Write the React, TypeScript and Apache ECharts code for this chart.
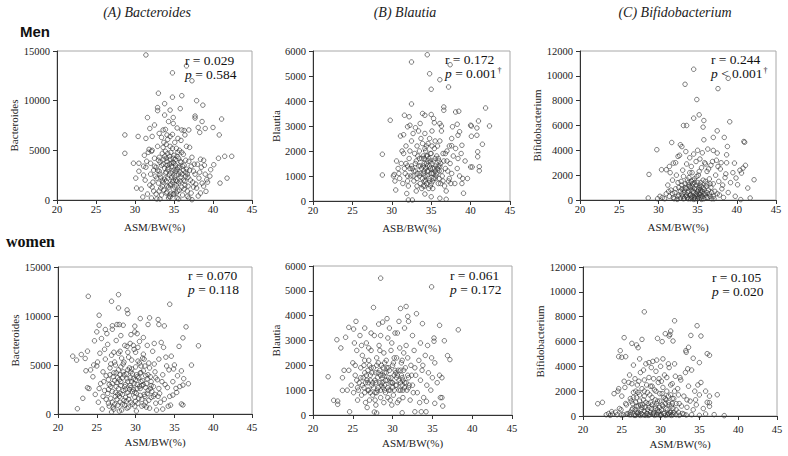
import React, { useEffect, useRef } from "react";
import * as echarts from "echarts";

// ---------- DATA ----------
const xTickValues = [20, 25, 30, 35, 40, 45];

const menBacteroides: [number, number][] = [
  [31.4,14600],[34.8,12800],[36.6,13500],[37.3,12000],[33.0,10750],[34.8,10350],[36.0,10500],[37.9,10000],[38.7,9550],
  [32.9,9300],[32.9,9000],[33.8,9700],[34.5,9050],[35.8,9200],[37.7,8450],[31.6,8300],[41.1,8150],[33.8,8550],[34.9,8300],
  [34.3,7900],[37.7,8250],[38.6,7900],[40.0,7300],[40.8,6550],[39.0,7200],[38.1,7300],[38.3,6800],[28.7,6550],[28.7,4700],
  [30.4,6400],[31.4,6200],[32.2,6400],[32.5,7550],[31.9,7200],[34.9,7700],[35.4,7250],[36.0,7050],[36.4,6550],[36.9,7050],
  [33.6,7050],[33.1,6700],[34.1,6550],[34.5,6400],[32.1,4900],[29.8,3700],[30.1,2200],[30.5,3700],[31.1,3400],[41.5,4400],
  [42.4,4400],[40.7,4200],[41.8,2200],[40.9,1700],[40.1,3550],[39.7,3050],[39.2,2050],[38.8,1400],[39.1,870],[38.4,700],
  [37.3,30],[35.4,200],[36.7,370],
  [31.2,4500],[31.5,3900],[31.8,5100],[32.0,2600],[32.3,1800],[32.5,4200],[32.7,3300],[32.9,5400],[33.1,2900],[33.3,1200],
  [33.5,4700],[33.6,3600],[33.8,2100],[34.0,5600],[34.1,800],[34.2,3100],[34.4,4400],[34.5,1500],[34.6,2700],[34.8,5200],
  [34.9,3800],[35.0,600],[35.1,2300],[35.2,4100],[35.4,1900],[35.5,3300],[35.7,5000],[35.8,2800],[36.0,1300],[36.2,4600],
  [36.3,3500],[36.5,2400],[36.7,900],[36.9,3900],[37.1,2000],[37.3,4300],[37.5,2900],[37.8,1600],[38.0,3600],[38.2,2200],
  [38.5,3300],[38.8,4000],[39.0,2600],[39.3,1800],[39.6,2400],[30.8,1100],[31.0,300],[31.3,2000],[31.6,600],[31.9,1500],
  [32.1,200],[32.4,900],[32.6,2400],[32.8,100],[33.0,1700],[33.2,3800],[33.4,500],[33.7,1000],[33.9,4900],[34.0,1900],
  [34.3,200],[34.4,2500],[34.7,3400],[34.9,1100],[35.0,4500],[35.2,2900],[35.3,700],[35.6,1700],[35.8,3900],[36.1,500],
  [36.4,1900],[36.6,3100],[36.8,1400],[37.0,5300],[37.2,700],[37.6,3600],[37.9,1200],[38.3,2800],[38.6,1700],[38.9,3500],
  [30.5,2900],[30.2,1200],[31.4,3300],[32.2,5000],[32.9,3000],[33.6,5300],[34.2,6100],[34.6,4800],[35.1,5800],[35.9,6000],
  [36.6,5400],[33.4,6300],[34.8,6600],[35.5,6200],[36.3,7000],[33.9,7100],[34.5,5400],[32.7,600],[33.3,2300],[33.8,3200],
  [34.1,3900],[34.3,1300],[34.6,600],[34.9,2000],[35.2,3500],[35.4,4400],[35.7,1000],[36.0,2600],[36.5,4000],[37.4,1800],
  [38.1,400],[32.0,3700],[31.7,4800],[33.1,4300],[34.7,2300],[35.6,2600],[36.2,3000],[33.5,1400],[34.0,2800],[34.4,3600],
  [35.0,3000],[35.3,1500],[34.2,4700],[33.7,4100],[36.8,2300],[37.7,2600],[38.4,4100],[37.2,3400],[35.9,3800],[31.1,2500],
  [32.5,3400],[34.9,4200],[36.0,4800],[33.2,100],[34.5,300],[35.6,100],[36.9,200],
  [33.2,2600],[33.4,3500],[33.6,1800],[33.8,4400],[34.0,700],[34.2,2200],[34.3,3300],[34.5,4100],[34.6,1600],[34.8,2900],
  [34.9,600],[35.0,3700],[35.1,1300],[35.3,2500],[35.4,3100],[35.5,900],[35.6,4200],[35.8,1900],[35.9,2300],[36.1,3400],
  [36.3,1100],[36.5,2800],[33.1,900],[33.5,2000],[33.9,2700],[34.1,1400],[34.4,400],[34.7,3700],[35.2,2000],[35.7,3300],
  [36.4,1500],[32.8,2200],[32.4,3000],[32.2,1300],[33.0,4000],[36.7,2600],[37.0,3000],[37.5,1300],[34.0,4200],[35.3,5200],
  [33.7,5800],[34.1,3500],[34.8,1800],[35.5,4800],[36.2,2000]
];

const menBlautia: [number, number][] = [
  [34.5,5850],[32.5,5560],[37.4,5450],[34.8,5090],[36.1,4850],[35.0,4470],[37.2,4560],[32.5,3880],[36.6,3760],[36.6,3630],
  [38.1,3560],[38.5,3590],[41.9,3720],[29.8,3230],[42.4,3000],[40.0,3030],[40.1,3000],[41.0,3200],[40.8,2920],[40.1,2590],
  [40.8,2630],[41.5,2270],[40.9,1970],[40.9,1770],[41.1,1370],[40.0,1360],[40.2,1360],[41.1,1210],[28.8,1870],[28.8,1040],
  [30.3,1060],[30.5,440],[39.1,310],[32.1,40],[32.6,40],[34.2,280],[35.0,170],[36.1,110],[36.9,70],[31.6,3430],[32.2,3370],
  [33.9,3500],[34.2,3430],[35.0,3460],[35.3,3300],[35.4,3130],[36.1,3100],[36.3,3000],[37.7,2970],[38.3,3070],[38.6,2770],
  [38.4,2630],[38.9,2230],[37.6,2210],[37.6,2500],[31.5,2650],[32.0,2970],[32.3,3030],[33.0,2930],[33.6,3100],
  [30.8,1300],[31.0,900],[31.2,1500],[31.4,700],[31.5,1900],[31.7,1100],[31.8,2200],[32.0,1400],[32.1,600],[32.2,1700],
  [32.4,1000],[32.5,2400],[32.6,1300],[32.8,800],[32.9,1900],[33.0,1500],[33.1,400],[33.2,2200],[33.3,1100],[33.5,1700],
  [33.6,700],[33.7,2500],[33.8,1300],[33.9,900],[34.0,1800],[34.1,1200],[34.2,600],[34.3,2000],[34.4,1500],[34.5,1000],
  [34.6,2300],[34.7,1700],[34.8,800],[34.9,1300],[35.0,1900],[35.1,1100],[35.2,500],[35.3,1600],[35.4,2100],[35.5,900],
  [35.6,1400],[35.7,1800],[35.9,700],[36.0,1200],[36.1,2400],[36.2,1500],[36.4,1000],[36.5,1900],[36.7,600],[36.8,1300],
  [37.0,2000],[37.2,800],[37.4,1500],[37.6,1100],[37.8,1800],[38.0,700],[38.3,1300],[38.6,1000],[38.9,700],[39.3,1600],
  [39.6,900],[30.4,800],[30.6,1600],[31.1,2600],[31.9,300],[32.3,2000],[32.7,2700],[33.4,2800],[33.9,2300],[34.2,2700],
  [34.5,1800],[34.8,2500],[35.1,2800],[35.5,2400],[35.8,2200],[36.3,2800],[34.0,1400],[34.3,800],[34.6,1200],[34.9,1600],
  [35.2,1300],[33.6,1400],[33.3,1800],[33.8,500],[35.0,700],[35.7,1100],[36.6,1600],[37.1,1200],[37.3,2200],[36.9,400],
  [37.5,700],[38.1,2100],[38.4,1700],[38.8,1900],[39.0,900],[32.0,1000],[32.8,1200],[33.1,1600],[34.1,1700],[34.4,2200],
  [34.7,500],[35.3,900],[35.9,1700],[36.2,700],[33.5,1000],[34.0,1100],[34.5,1400],[35.5,1200],[36.1,1400],[33.2,600],
  [32.5,1400],[31.6,1300],[31.3,2000],[30.9,1100],[30.2,1000],
  [33.2,900],[33.4,1400],[33.6,1100],[33.8,1700],[34.0,600],[34.1,1500],[34.2,1000],[34.3,1300],[34.4,700],[34.5,1200],
  [34.6,1600],[34.7,900],[34.8,1400],[34.9,1900],[35.0,1100],[35.1,1500],[35.2,800],[35.4,1300],[35.5,1700],[35.6,1000],
  [35.8,1300],[36.0,900],[36.3,1200],[33.0,1200],[32.7,1000],[32.3,1300],[34.1,800],[34.4,1800],[34.9,600],[35.3,1100],
  [35.9,1400],[36.5,800],[33.5,2000],[34.2,2100],[35.1,2200],[36.0,1600],[31.8,1500],[32.0,800],[37.0,1600],[37.3,900],
  [36.8,1900]
];

const menBifido: [number, number][] = [
  [34.5,10530],[33.4,9320],[38.9,9800],[37.6,8970],[34.9,8090],[35.2,6860],[34.5,6590],[35.8,6400],[35.7,5870],[39.1,6300],
  [33.2,6000],[33.6,6000],[37.5,5570],[38.4,5040],[37.0,5040],[35.8,4850],[31.7,4630],[29.8,4050],[40.9,4710],[41.0,4650],
  [38.8,4310],[32.8,4450],[38.7,3640],[37.5,3780],[37.0,3990],[28.8,2060],[28.7,160],[39.7,2970],[41.1,2790],[42.2,1630],
  [41.4,960],[41.7,160],[40.5,30],[39.9,1770],[40.1,1230],[40.8,2570],[40.6,2170],[40.4,2400],[30.4,2440],[31.0,2440],
  [31.4,2700],[31.9,2970],[32.5,3510],
  [30.5,200],[30.8,100],[31.0,500],[31.2,1200],[31.4,300],[31.6,800],[31.8,1600],[32.0,100],[32.1,600],[32.3,2000],
  [32.5,300],[32.6,1000],[32.8,150],[32.9,1500],[33.0,500],[33.1,2400],[33.2,100],[33.3,800],[33.4,1300],[33.5,300],
  [33.6,2900],[33.7,600],[33.8,100],[33.9,1800],[34.0,400],[34.1,1000],[34.2,200],[34.3,2200],[34.4,700],[34.5,50],
  [34.6,1400],[34.7,300],[34.8,3100],[34.9,900],[35.0,100],[35.1,2000],[35.2,500],[35.3,1200],[35.4,200],[35.5,2600],
  [35.6,700],[35.7,1600],[35.8,100],[35.9,3000],[36.0,400],[36.1,1100],[36.2,2300],[36.3,200],[36.4,800],[36.5,1700],
  [36.6,300],[36.7,2800],[36.8,600],[37.0,1300],[37.1,100],[37.3,2000],[37.5,500],[37.7,1500],[37.9,2500],[38.1,900],
  [38.3,200],[38.5,1800],[38.7,3000],[38.9,600],[39.2,1400],[39.5,2200],[39.8,300],[31.5,2200],[32.2,3000],[32.7,3600],
  [33.0,4300],[33.5,3900],[34.0,3400],[34.5,3700],[35.0,4000],[35.3,3300],[35.6,3800],[36.0,2900],[36.3,4100],[36.9,3100],
  [37.4,3200],[34.2,2700],[33.9,1200],[34.4,1600],[34.8,500],[35.1,800],[35.4,1400],[34.1,100],[33.6,400],[33.3,150],
  [34.6,200],[35.0,300],[35.5,50],[36.1,200],[36.8,100],[32.4,50],[31.9,200],[33.0,900],[33.7,1600],[34.3,1100],
  [34.9,1900],[35.2,2300],[35.7,1000],[36.2,600],[36.6,1300],[37.2,700],[37.8,400],[38.2,1200],[34.0,2200],[33.2,1900],
  [32.5,1400],[31.3,700],[30.2,300],[29.9,100],[35.9,500],[36.4,2500],[37.6,2700],[38.0,3000],[38.6,2100],
  [33.1,300],[33.3,600],[33.5,900],[33.7,200],[33.9,700],[34.0,1100],[34.1,400],[34.2,800],[34.3,300],[34.4,1300],
  [34.5,600],[34.6,900],[34.7,100],[34.8,1200],[34.9,400],[35.0,700],[35.1,200],[35.2,1000],[35.3,400],[35.4,800],
  [35.5,1100],[35.6,300],[35.7,500],[35.8,900],[36.0,1500],[36.2,1300],[32.8,700],[32.6,400],[33.0,1200],[36.5,500],
  [36.7,1000],[37.0,300],[34.2,1500],[34.6,1700],[35.0,1400],[35.4,600],[33.4,1000],[33.8,1400],[32.2,900],[31.8,500]
];

const womenBacteroides: [number, number][] = [
  [23.9,12010],[27.8,12180],[26.9,11500],[34.4,11200],[27.8,10820],[28.9,10620],[29.0,10250],[25.3,10080],[25.3,9060],
  [30.6,9740],[31.8,9810],[32.9,9640],[33.0,9130],[33.7,8990],[36.5,8890],[25.0,8380],[26.1,8620],[27.0,8650],[27.6,9130],
  [27.9,9130],[28.4,9060],[29.9,8960],[29.9,8380],[31.6,9130],[24.7,7470],[38.1,6960],[36.1,7770],[21.9,5900],[23.0,6070],
  [23.8,6410],[22.4,5500],[23.5,5670],[23.6,4410],[23.8,2680],[23.2,1600],[22.5,540],[37.2,4990],[36.8,3090],[36.1,2950],
  [35.9,1020],[36.1,920],[35.2,2610],[34.8,1930],
  [24.5,3800],[24.8,2000],[25.0,4900],[25.2,1200],[25.4,6200],[25.5,3100],[25.7,500],[25.8,4300],[26.0,2400],[26.1,5600],
  [26.2,1500],[26.4,7100],[26.5,3500],[26.6,800],[26.7,4700],[26.8,2800],[26.9,6000],[27.0,1200],[27.1,3800],[27.2,500],
  [27.3,5300],[27.4,2200],[27.5,7500],[27.6,3200],[27.7,900],[27.8,4500],[27.9,1800],[28.0,6400],[28.1,2900],[28.2,400],
  [28.3,3700],[28.4,5100],[28.5,1400],[28.6,7000],[28.7,2500],[28.8,4100],[28.9,600],[29.0,3300],[29.1,5800],[29.2,1900],
  [29.3,7200],[29.4,2700],[29.5,4600],[29.6,1000],[29.7,3600],[29.8,6600],[29.9,2200],[30.0,4800],[30.1,300],[30.2,3000],
  [30.3,5400],[30.4,1600],[30.5,7400],[30.6,2600],[30.7,4200],[30.8,800],[30.9,3400],[31.0,6100],[31.1,2000],[31.2,4900],
  [31.3,1200],[31.4,3100],[31.5,7000],[31.6,2400],[31.7,5200],[31.8,600],[31.9,3800],[32.0,1700],[32.2,6400],[32.3,2800],
  [32.5,4300],[32.6,1100],[32.8,3500],[33.0,5600],[33.1,2100],[33.3,7300],[33.5,4000],[33.7,1500],[33.9,5800],[34.1,2700],
  [34.3,4500],[34.5,900],[34.8,3300],[35.0,5000],[35.3,2200],[35.6,6900],[35.9,4400],[36.2,3600],[24.2,4500],[24.0,2600],
  [25.6,7700],[26.3,8200],[27.0,9000],[28.1,8000],[29.4,8100],[30.2,8200],[31.0,7800],[32.4,7200],[33.6,6800],[26.6,3000],
  [27.3,3400],[27.8,2600],[28.3,1000],[28.7,3000],[29.1,1500],[29.6,2300],[30.0,1300],[30.4,3700],[30.8,2900],[31.2,1800],
  [31.6,4000],[27.1,700],[27.6,1500],[28.0,2100],[28.5,4000],[29.0,4500],[29.5,5500],[30.0,6300],[30.5,5200],[31.0,4400],
  [31.5,3600],[26.8,5100],[27.2,6300],[26.4,2100],[25.9,3300],[25.3,2600],[27.9,300],[28.8,1300],[29.2,2500],[29.8,3100],
  [30.6,1900],[31.4,700],[32.1,2300],[32.7,400],[33.2,1200],[33.8,3000],[34.4,1800],[34.6,5900],[27.5,4200],[28.2,5700],
  [28.9,6900],[29.7,7000],[30.3,6800],[26.0,6600],[25.1,5300],[24.6,5000],[30.9,5700],[31.8,4700],[32.4,5100],[33.4,3300],
  [34.0,4900],[34.9,4600],[35.4,3900],[35.7,2800],[34.2,800],[33.5,500],[32.9,1800],[32.0,2900],[27.0,2300],[27.4,1800],
  [27.7,3700],[28.4,2400],[28.6,900],[29.3,3700],[29.9,1700],[30.2,2600],[30.7,3300],[31.3,2700],[26.5,1100],[26.9,200],
  [25.8,1800],[26.2,3900],[28.1,4800],[29.4,4300],[30.1,4000],[31.1,5600],[32.6,3700],
  [26.5,2500],[26.8,1600],[27.0,3100],[27.2,4200],[27.3,1000],[27.5,2800],[27.7,2000],[27.9,3500],[28.0,1200],[28.1,3300],
  [28.3,2000],[28.4,4300],[28.6,2800],[28.7,1700],[28.9,3600],[29.0,2200],[29.1,700],[29.3,2900],[29.4,1200],[29.6,4100],
  [29.7,2500],[29.9,800],[30.0,3500],[30.1,2100],[30.3,1100],[30.5,2800],[30.6,4200],[30.8,1500],[31.0,3000],[31.1,900],
  [31.3,3900],[31.5,2100],[31.7,1400],[32.0,3300],[32.3,1800],[27.4,5000],[28.5,5300],[29.2,4700],[30.7,4900],[27.8,6200],
  [29.0,6300],[26.7,4000],[28.0,4000],[29.5,3300],[30.2,3800],[31.9,2600],[32.5,2000],[33.0,2600]
];

const womenBlautia: [number, number][] = [
  [28.5,5510],[34.9,5160],[27.6,4330],[31.0,4290],[31.7,4370],[33.0,4080],[31.9,3970],[32.0,3770],[30.8,3770],[29.3,3880],
  [28.75,3740],[28.25,3660],[33.75,3680],[35.9,3610],[38.25,3430],[25.4,3770],[25.1,3460],[24.5,3530],[23.0,3030],
  [24.1,3130],[23.5,2700],[36.5,2990],[35.2,3100],[35.2,2970],[36.9,2390],[37.2,2230],[21.9,1540],[23.7,1500],[23.9,1800],
  [22.6,590],[23.1,560],[23.1,430],[23.7,990],[24.6,130],[27.7,120],[28.0,80],[31.2,90],[32.8,130],[33.6,130],[34.2,130],
  [36.0,700],[36.2,700],[36.3,360],[35.3,470],[34.25,550],
  [24.8,1200],[25.0,2100],[25.1,900],[25.3,1600],[25.5,2600],[25.6,600],[25.8,1300],[26.0,1900],[26.1,800],[26.2,2400],
  [26.4,1100],[26.5,1700],[26.6,500],[26.7,2900],[26.8,1400],[26.9,1000],[27.0,2200],[27.1,600],[27.2,1600],[27.3,2600],
  [27.4,1200],[27.5,800],[27.6,1900],[27.7,3200],[27.8,1400],[27.9,400],[28.0,2300],[28.1,1000],[28.2,1700],[28.3,2800],
  [28.4,1300],[28.5,700],[28.6,2000],[28.7,1500],[28.8,1100],[28.9,2500],[29.0,1700],[29.1,900],[29.2,2200],[29.3,1400],
  [29.4,3100],[29.5,1000],[29.6,1800],[29.7,600],[29.8,2600],[29.9,1300],[30.0,2000],[30.1,800],[30.2,1600],[30.3,3300],
  [30.4,1200],[30.5,2300],[30.6,500],[30.7,1800],[30.8,1400],[30.9,2700],[31.0,1000],[31.1,2100],[31.2,1500],[31.3,700],
  [31.4,2500],[31.5,1300],[31.6,1900],[31.8,1000],[31.9,2300],[32.0,1500],[32.2,600],[32.3,2000],[32.5,1200],[32.7,2600],
  [32.9,1600],[33.1,900],[33.3,2200],[33.5,1400],[33.7,1800],[33.9,700],[34.1,2400],[34.3,1200],[34.5,1700],[34.8,1000],
  [35.0,1500],[35.3,2100],[35.6,1300],[35.9,1600],[36.2,1500],[26.3,1500],[26.9,1800],[27.5,1300],[28.0,900],[28.5,1600],
  [29.0,1200],[29.5,1500],[30.0,1100],[30.5,1500],[31.0,1800],[31.5,1100],[27.3,1900],[28.2,2100],[29.3,1900],[30.2,2300],
  [31.2,1200],[27.8,600],[28.9,500],[29.9,400],[26.5,2200],[25.5,1400],[24.5,1800],[25.9,3200],[26.5,3500],[27.3,3300],
  [28.5,3200],[29.6,3500],[30.6,3300],[31.5,3500],[32.5,3200],[33.5,2900],[34.4,2800],[26.1,2800],[27.0,2700],[28.4,2600],
  [29.9,2900],[31.7,2800],[32.8,1900],[33.8,2000],[34.9,2300],[26.8,300],[27.2,900],[28.6,1200],[29.4,700],[30.8,600],
  [31.9,1600],[32.6,900],[33.4,500],[25.2,2900],[24.3,1000],[25.7,1000],[26.6,1300],[27.9,1700],[28.8,1900],[29.7,1300],
  [30.4,1700],[31.3,1400],[32.1,1200],
  [26.2,1200],[26.5,900],[26.7,1600],[26.9,1300],[27.0,1000],[27.2,1400],[27.4,1700],[27.6,1100],[27.8,900],[27.9,1300],
  [28.1,1500],[28.2,1100],[28.4,1800],[28.5,1000],[28.7,1300],[28.8,1600],[29.0,1000],[29.1,1400],[29.2,1700],[29.4,1100],
  [29.5,1900],[29.7,1000],[29.8,1500],[30.0,1300],[30.2,1000],[30.3,1800],[30.5,1200],[30.6,1600],[30.8,1000],[31.0,1300],
  [31.1,1600],[31.3,1000],[31.4,1800],[31.7,1300],[32.0,1100],[32.4,1600],[27.1,2000],[28.0,2000],[29.0,2100],[30.1,2100],
  [31.2,2200],[26.0,1500],[25.6,1100],[25.3,2000],[26.4,2000]
];

const womenBifido: [number, number][] = [
  [27.9,8390],[31.8,7670],[34.7,7270],[25.3,6310],[31.3,6840],[31.2,6570],[30.6,6630],[31.1,6440],[35.2,6440],[33.9,6490],
  [31.6,6040],[29.6,6250],[30.2,5990],[27.6,6170],[26.3,5850],[33.6,5530],[33.25,5260],[33.3,5130],[36.0,5020],[36.3,4890],
  [24.8,5260],[25.0,4730],[24.6,4780],[25.5,4780],[26.9,5720],[27.1,5500],[35.0,4300],[34.2,4650],[21.9,990],[22.5,1100],
  [37.3,1710],[38.2,30],[36.3,1070],[36.3,780],[36.9,110],[35.8,160],
  [23.0,100],[23.3,200],[23.5,50],[23.8,150],[24.0,1800],[24.2,300],[24.5,2000],[24.7,600],[25.0,1600],[25.2,100],
  [25.4,2300],[25.6,900],[25.8,200],[26.0,3300],[26.1,1400],[26.2,100],[26.3,2600],[26.4,600],[26.5,1900],[26.6,50],
  [26.7,3000],[26.8,1100],[26.9,300],[27.0,2500],[27.1,800],[27.2,100],[27.3,1700],[27.4,3500],[27.5,500],[27.6,2200],
  [27.7,100],[27.8,1300],[27.9,2900],[28.0,700],[28.1,4200],[28.2,200],[28.3,1900],[28.4,1000],[28.5,3100],[28.6,100],
  [28.7,2400],[28.8,600],[28.9,1500],[29.0,4400],[29.1,300],[29.2,2100],[29.3,800],[29.4,3600],[29.5,100],[29.6,1200],
  [29.7,2700],[29.8,400],[29.9,1800],[30.0,4000],[30.1,100],[30.2,900],[30.3,2300],[30.4,200],[30.5,3300],[30.6,1400],
  [30.7,600],[30.8,2000],[30.9,100],[31.0,1100],[31.1,3900],[31.2,300],[31.3,1700],[31.4,800],[31.5,2600],[31.6,100],
  [31.7,1400],[31.9,3200],[32.0,500],[32.2,2200],[32.4,1000],[32.6,2900],[32.8,200],[33.0,1600],[33.2,3500],[33.4,700],
  [33.6,2400],[33.8,1200],[34.0,3700],[34.2,500],[34.4,2000],[34.6,900],[34.8,2500],[35.0,1700],[35.2,2700],[35.5,600],
  [35.8,2000],[36.0,1100],[36.3,1600],[26.5,4100],[27.3,4600],[28.5,4300],[29.5,4500],[30.3,4600],[31.0,4200],[27.8,3700],
  [28.8,3900],[29.8,3000],[30.8,3100],[31.8,4200],[32.5,3100],[33.5,3800],[26.2,1200],[26.8,2000],[27.4,900],[27.9,1600],
  [28.3,500],[28.9,2400],[29.3,1300],[29.9,700],[30.4,1500],[31.0,200],[31.5,1000],[26.0,100],[27.0,200],[28.0,50],
  [29.0,150],[30.0,50],[31.2,100],[32.0,100],[33.0,150],[34.0,100],[35.0,50],[26.3,500],[27.6,700],[28.7,1100],[29.6,500],
  [30.6,1000],[31.6,600],[25.5,1000],[25.9,2700],[26.9,1500],[27.2,2800],[28.2,2500],[29.1,3000],[30.1,2800],[31.3,2500],
  [32.3,1700],[33.4,1300],[34.5,1300],[24.6,2200],[25.3,2800],[24.9,500],[23.7,350],[24.4,100],
  [26.1,300],[26.4,1000],[26.7,500],[26.9,800],[27.1,300],[27.3,1200],[27.5,200],[27.7,900],[27.9,400],[28.1,1100],
  [28.3,200],[28.5,700],[28.7,300],[28.9,900],[29.1,200],[29.3,600],[29.5,1000],[29.7,300],[29.9,1200],[30.1,500],
  [30.3,800],[30.5,200],[30.7,1300],[30.9,500],[31.1,900],[31.3,300],[31.5,1400],[31.7,300],[32.0,1000],[32.3,300],
  [32.7,800],[26.5,1500],[27.1,1900],[27.9,2000],[28.6,1700],[29.4,2000],[30.2,1800],[31.0,1600],[31.8,2000],[26.8,50],
  [27.4,50],[28.4,50],[29.2,50],[29.8,100],[30.6,50],[31.4,50],[32.4,50],[33.3,80],[25.6,150],[24.9,80]
];

const columnTitles = ["(A) Bacteroides", "(B) Blautia", "(C) Bifidobacterium"];
const rowLabels = ["Men", "women"];
const yNames = ["Bacteroides", "Blautia", "Bifidobacterium"];
const yMaxes = [15000, 6000, 12000];
const yIntervals = [5000, 1000, 2000];
const xNames = ["ASM/BW(%)", "ASB/BW(%)", "ASM/BW(%)", "ASM/BW(%)", "ASM/BW(%)", "ASM/BW(%)"];
const rValues = ["0.029", "0.172", "0.244", "0.070", "0.061", "0.105"];
const pValues = ["= 0.584", "= 0.001{s|†}", "< 0.001{s|†}", "= 0.118", "= 0.172", "= 0.020"];
const panelData = [menBacteroides, menBlautia, menBifido, womenBacteroides, womenBlautia, womenBifido];

// ---------- LAYOUT ----------
const SERIF = '"Liberation Serif", "Times New Roman", serif';
const grids = [
  { left: 57, top: 51, width: 195, height: 149, yGap: 36, xGap: 21, lm: 4 },
  { left: 313, top: 51, width: 197, height: 150, yGap: 30, xGap: 21, lm: 4 },
  { left: 580, top: 51, width: 196, height: 149, yGap: 34, xGap: 21, lm: 4 },
  { left: 58, top: 267, width: 194, height: 147, yGap: 37, xGap: 22, lm: 8 },
  { left: 313, top: 266, width: 199, height: 149, yGap: 30, xGap: 22, lm: 8 },
  { left: 583, top: 267, width: 194, height: 149, yGap: 36, xGap: 22, lm: 8 },
];
const statPos = [
  { x: 185, y: 53 },
  { x: 445, y: 52 },
  { x: 711, y: 52 },
  { x: 188, y: 268 },
  { x: 450, y: 268 },
  { x: 712, y: 270 },
];
const titleCenters = [147, 405, 675];

export default function App() {
  const ref = useRef<HTMLDivElement>(null);
  useEffect(() => {
    if (!ref.current) return;
    const chart = echarts.init(ref.current, undefined, { renderer: "svg" });
    const axisColor = "#333";
    const labelStyle = { fontFamily: SERIF, fontSize: 10.5, color: "#222" };

    const xAxis = grids.map((g, i) => ({
      type: "value",
      gridIndex: i,
      min: xTickValues[0],
      max: xTickValues[xTickValues.length - 1],
      interval: 5,
      name: xNames[i],
      nameLocation: "middle",
      nameGap: g.xGap,
      nameTextStyle: { fontFamily: SERIF, fontSize: 11, color: "#222" },
      axisLine: { show: true, onZero: false, lineStyle: { color: axisColor, width: 1 } },
      axisTick: { show: true, length: 4, lineStyle: { color: axisColor } },
      axisLabel: { ...labelStyle, margin: g.lm, showMinLabel: true, showMaxLabel: true },
      splitLine: { show: false },
    }));
    const yAxis = grids.map((g, i) => ({
      type: "value",
      gridIndex: i,
      min: 0,
      max: yMaxes[i % 3],
      interval: yIntervals[i % 3],
      name: yNames[i % 3],
      nameLocation: "middle",
      nameGap: g.yGap,
      nameTextStyle: { fontFamily: SERIF, fontSize: 11, color: "#222" },
      axisLine: { show: true, onZero: false, lineStyle: { color: axisColor, width: 1 } },
      axisTick: { show: true, length: 4, lineStyle: { color: axisColor } },
      axisLabel: { ...labelStyle, margin: 7, formatter: (v: number) => String(v) },
      splitLine: { show: false },
    }));
    const series = panelData.map((d, i) => ({
      type: "scatter",
      xAxisIndex: i,
      yAxisIndex: i,
      data: d,
      symbol: "circle",
      symbolSize: 4.5,
      itemStyle: { color: "rgba(255,255,255,0)", borderColor: "#333", borderWidth: 0.8 },
      silent: true,
    }));

    const titles: any[] = [];
    columnTitles.forEach((t, i) => {
      titles.push({
        text: t,
        left: titleCenters[i],
        top: 5,
        textAlign: "center",
        padding: 0,
        textStyle: { fontFamily: SERIF, fontSize: 14, fontStyle: "italic", fontWeight: "normal", color: "#222" },
      });
    });
    titles.push({
      text: rowLabels[0], left: 20, top: 24, padding: 0,
      textStyle: { fontFamily: '"Liberation Sans", Arial, sans-serif', fontSize: 15, fontWeight: "bold", color: "#111" },
    });
    titles.push({
      text: rowLabels[1], left: 6, top: 233, padding: 0,
      textStyle: { fontFamily: SERIF, fontSize: 16, fontWeight: "bold", color: "#111" },
    });
    statPos.forEach((s, i) => {
      titles.push({
        text: "r = " + rValues[i] + "\n{i|p} " + pValues[i],
        left: s.x, top: s.y, padding: 0,
        textStyle: {
          fontFamily: SERIF, fontSize: 13.5, fontWeight: "normal", color: "#111", lineHeight: 14,
          rich: {
            i: { fontFamily: SERIF, fontSize: 13.5, fontStyle: "italic", color: "#111", lineHeight: 14 },
            s: { fontFamily: SERIF, fontSize: 8, color: "#111", lineHeight: 14, padding: [0, 0, 6, 1] },
          },
        },
      });
    });

    chart.setOption({
      animation: false,
      backgroundColor: "#fff",
      title: titles,
      grid: grids.map((g) => ({
        left: g.left, top: g.top, width: g.width, height: g.height,
        show: true, borderColor: "#a8a8a8", borderWidth: 1, backgroundColor: "transparent",
        containLabel: false,
      })),
      xAxis,
      yAxis,
      series,
    });
    return () => chart.dispose();
  }, []);
  return (
    <div
      ref={ref}
      style={{ position: "fixed", left: 0, top: 0, width: 788, height: 456, background: "#fff" }}
    />
  );
}
